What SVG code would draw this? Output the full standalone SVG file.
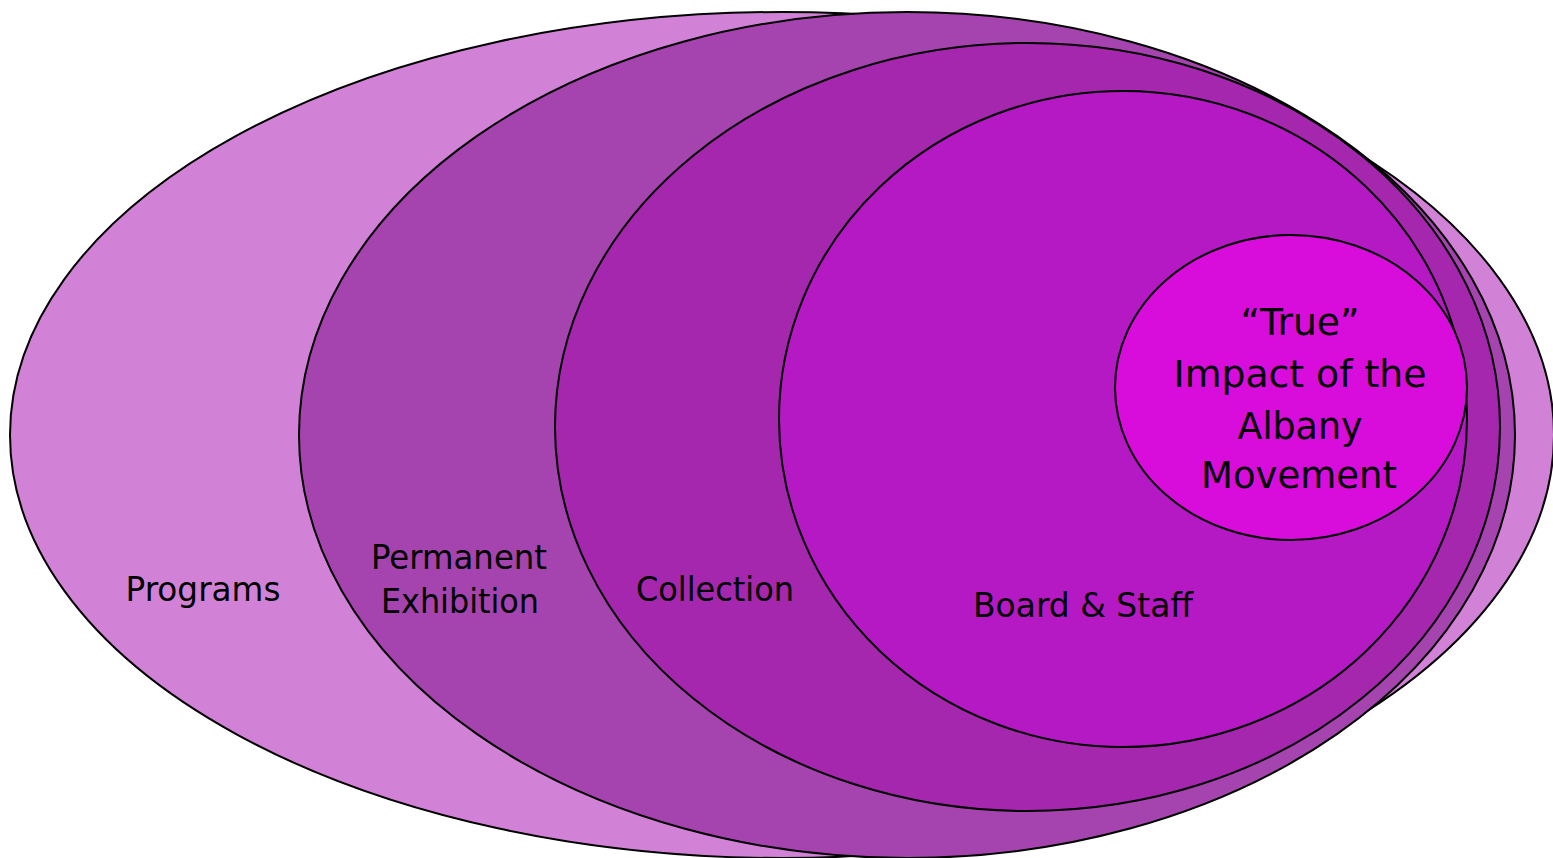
<svg xmlns="http://www.w3.org/2000/svg" width="1553" height="858" viewBox="0 0 1553 858">
<style>
.e{stroke:#000;stroke-width:2}
.t{font-family:"DejaVu Sans","Liberation Sans",sans-serif;font-size:34px;fill:#000;text-anchor:middle}
.ti{font-size:37px}
</style>
<rect width="1553" height="858" fill="#fff"/>
<g id="programs">
<ellipse class="e" cx="782" cy="435" rx="772" ry="423" fill="#D282D6"/>
<text class="t" x="203" y="601" textLength="155" lengthAdjust="spacingAndGlyphs">Programs</text>
</g>
<g id="permanent-exhibition">
<ellipse class="e" cx="907" cy="435" rx="608" ry="423" fill="#A544AE"/>
<text class="t" x="459" y="569" textLength="176" lengthAdjust="spacingAndGlyphs">Permanent</text>
<text class="t" x="460" y="613" textLength="158" lengthAdjust="spacingAndGlyphs">Exhibition</text>
</g>
<g id="collection">
<ellipse class="e" cx="1027.5" cy="427" rx="472.5" ry="384" fill="#A427AD"/>
<text class="t" x="715" y="601" textLength="158" lengthAdjust="spacingAndGlyphs">Collection</text>
</g>
<g id="board-staff">
<ellipse class="e" cx="1123" cy="419" rx="344" ry="328" fill="#B419C4"/>
<text class="t" x="1083" y="617" textLength="220" lengthAdjust="spacingAndGlyphs">Board &amp; Staff</text>
</g>
<g id="true-impact">
<ellipse class="e" cx="1291" cy="387.5" rx="176" ry="152.5" fill="#D90DDB"/>
<text class="t ti" x="1300" y="335" textLength="119" lengthAdjust="spacingAndGlyphs">“True”</text>
<text class="t ti" x="1300" y="387" textLength="253" lengthAdjust="spacingAndGlyphs">Impact of the</text>
<text class="t ti" x="1300" y="439" textLength="125" lengthAdjust="spacingAndGlyphs">Albany</text>
<text class="t ti" x="1299" y="488" textLength="196" lengthAdjust="spacingAndGlyphs">Movement</text>
</g>
<g id="connectors"/>
</svg>
